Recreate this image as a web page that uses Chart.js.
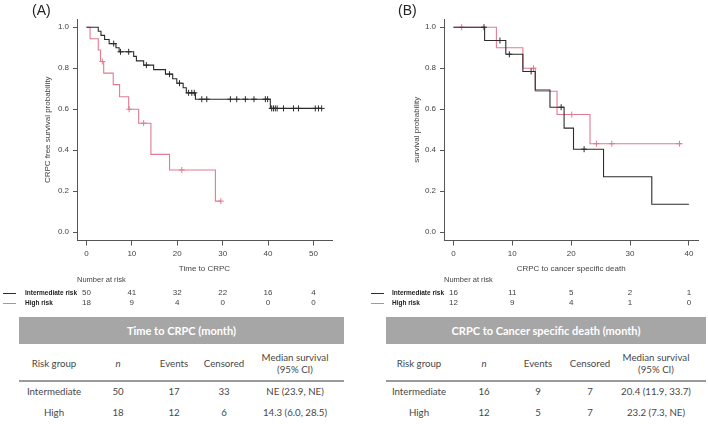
<!DOCTYPE html>
<html><head><meta charset="utf-8">
<script src="https://cdn.jsdelivr.net/npm/chart.js@4.4.1/dist/chart.umd.min.js"></script>
<style>
html,body{margin:0;padding:0;background:#fff;}
body{width:708px;height:424px;position:relative;overflow:hidden;font-family:"Liberation Sans",Arial,sans-serif;}
.abs{position:absolute;white-space:nowrap;line-height:1.2;}
.c{transform:translate(-50%,-50%);text-align:center;}
.l{transform:translateY(-50%);}
.rk{font-size:8px;color:#444;}
.lab{font-size:6.5px;font-weight:bold;color:#222;}
.tbl{font-family:Lato,"Open Sans",sans-serif;font-size:9.7px;color:#474747;}
.band{position:absolute;background:#a6a6a6;}
.bandt{font-family:Lato,"Open Sans",sans-serif;font-weight:bold;font-size:11px;color:#fff;}
.sep{position:absolute;height:1.5px;background:#9a9a9a;}
.panel{font-size:14px;color:#222;}
</style></head><body>
<canvas id="cA" width="354" height="276" style="position:absolute;left:0;top:0;width:354px;height:276px"></canvas>
<canvas id="cB" width="354" height="276" style="position:absolute;left:354px;top:0;width:354px;height:276px"></canvas>
<div id="ov"></div>
<script>
// ---------- Panel A: Time to CRPC ----------
const aTicks = [0, 10, 20, 30, 40, 50];
const survTicks = [0, 0.2, 0.4, 0.6, 0.8, 1.0];
const aInterTimes = [0, 2.6, 3.2, 4.0, 5.0, 6.5, 7.2, 10.4, 11.0, 12.6, 14.8, 17.4, 19.0, 19.9, 21.3, 22.0, 24.0, 40.5, 51.8];
const aInterSurv  = [1, 0.98, 0.96, 0.94, 0.92, 0.90, 0.88, 0.858, 0.836, 0.815, 0.793, 0.771, 0.749, 0.727, 0.705, 0.68, 0.649, 0.604, 0.604];
const aInterCensT = [6.0, 7.5, 9.3, 13.2, 18.3, 20.5, 22.5, 23.2, 23.75, 25.4, 26.5, 31.7, 33.1, 35.0, 36.9, 39.4, 39.9, 40.8, 41.2, 41.6, 42.0, 43.4, 45.6, 46.7, 50.4, 51.1, 51.8];
const aInterCensS = [0.92, 0.88, 0.88, 0.815, 0.771, 0.727, 0.68, 0.68, 0.68, 0.649, 0.649, 0.649, 0.649, 0.649, 0.649, 0.649, 0.649, 0.604, 0.604, 0.604, 0.604, 0.604, 0.604, 0.604, 0.604, 0.604, 0.604];
const aHighTimes = [0, 0.8, 2.6, 3.1, 3.8, 5.9, 7.3, 9.3, 11.5, 14.2, 18.3, 28.4, 29.7];
const aHighSurv  = [1, 0.944, 0.889, 0.833, 0.776, 0.72, 0.661, 0.60, 0.532, 0.38, 0.304, 0.152, 0.152];
const aHighCensT = [3.5, 9.4, 12.6, 21.0, 29.6];
const aHighCensS = [0.833, 0.60, 0.532, 0.304, 0.152];
const aRiskTimes = [0, 10, 20, 30, 40, 50];
const aRiskInter = [50, 41, 32, 22, 16, 4];
const aRiskHigh  = [18, 9, 4, 0, 0, 0];

// ---------- Panel B: CRPC to cancer specific death ----------
const bTicks = [0, 10, 20, 30, 40];
const bInterTimes = [0, 5.3, 8.9, 11.8, 13.9, 16.4, 18.8, 20.4, 25.5, 33.7, 40.0];
const bInterSurv  = [1, 0.935, 0.868, 0.784, 0.694, 0.61, 0.508, 0.405, 0.271, 0.137, 0.137];
const bInterCensT = [5.2, 7.9, 9.5, 13.2, 18.3, 22.2];
const bInterCensS = [1.0, 0.935, 0.868, 0.784, 0.61, 0.405];
const bHighTimes = [0, 7.3, 11.8, 13.9, 17.6, 23.2, 38.8];
const bHighSurv  = [1, 0.90, 0.80, 0.688, 0.574, 0.432, 0.432];
const bHighCensT = [1.4, 13.6, 20.1, 24.3, 26.9, 38.4];
const bHighCensS = [1.0, 0.80, 0.574, 0.432, 0.432, 0.432];
const bRiskTimes = [0, 10, 20, 30, 40];
const bRiskInter = [16, 11, 5, 2, 1];
const bRiskHigh  = [12, 9, 4, 1, 0];

// ---------- Tables ----------
const colHeaders = ['Risk group', 'n', 'Events', 'Censored', 'Median survival<br>(95% CI)'];
const groupNames = ['Intermediate', 'High'];
const tATitle = 'Time to CRPC (month)';
const tAN = [50, 18];
const tAEvents = [17, 12];
const tACens = [33, 6];
const tAMedian = ['NE (23.9, NE)', '14.3 (6.0, 28.5)'];
const tBTitle = 'CRPC to Cancer specific death (month)';
const tBN = [16, 12];
const tBEvents = [9, 5];
const tBCens = [7, 7];
const tBMedian = ['20.4 (11.9, 33.7)', '23.2 (7.3, NE)'];

const FAM = '"Liberation Sans", Arial, sans-serif';
const BLACK = '#2b2b2b';
const RED = '#e27a90';

function pts(ts, ss) { return ts.map((t, i) => ({x: t, y: ss[i]})); }

function km(id, o) {
  const ds = [];
  o.groups.forEach(g => {
    ds.push({type: 'line', data: pts(g.t, g.s), stepped: true, borderColor: g.col, borderWidth: 1.1, pointRadius: 0, fill: false, order: g.order});
    ds.push({type: 'line', data: pts(g.ct, g.cs), showLine: false, pointStyle: 'cross', pointRadius: 3, pointBorderColor: g.col, pointBorderWidth: 1, borderColor: g.col, order: g.order});
  });
  return new Chart(document.getElementById(id), {
    type: 'line',
    data: {datasets: ds},
    options: {
      responsive: false, animation: false, devicePixelRatio: 1,
      layout: {padding: {top: 19, right: o.padR, left: 0, bottom: 0}},
      plugins: {legend: {display: false}, tooltip: {enabled: false}},
      scales: {
        x: {
          type: 'linear', min: o.xmin, max: o.xmax,
          afterBuildTicks: s => { s.ticks = o.xTicks.map(v => ({value: v})); },
          afterFit: s => { s.height = 35.5; },
          ticks: {font: {family: FAM, size: 8}, color: '#444', padding: 3, maxRotation: 0, autoSkip: false, callback: v => String(v)},
          grid: {drawOnChartArea: false, drawTicks: true, tickLength: 5, color: '#555', lineWidth: 1},
          border: {display: true, color: '#555', width: 1},
          title: {display: true, text: o.xTitle, font: {family: FAM, size: 8}, color: '#444', padding: {top: 0, bottom: 2}}
        },
        y: {
          type: 'linear', min: -0.04, max: 1.04,
          afterBuildTicks: s => { s.ticks = survTicks.map(v => ({value: v})); },
          afterFit: s => { s.width = o.yW; },
          ticks: {font: {family: FAM, size: 8}, color: '#444', padding: 4, autoSkip: false, callback: v => Number(v).toFixed(1)},
          grid: {drawOnChartArea: false, drawTicks: true, tickLength: 4, color: '#555', lineWidth: 1},
          border: {display: true, color: '#555', width: 1},
          title: {display: true, text: o.yTitle, font: {family: FAM, size: 8}, color: '#444', padding: {top: o.yTitlePad, bottom: 0}}
        }
      }
    }
  });
}

const chA = km('cA', {
  xmin: -2.08, xmax: 54.08, xTicks: aTicks, padR: 22, yW: 77, yTitlePad: 43,
  xTitle: 'Time to CRPC', yTitle: 'CRPC free survival probability',
  groups: [
    {t: aHighTimes, s: aHighSurv, ct: aHighCensT, cs: aHighCensS, col: RED, order: 2},
    {t: aInterTimes, s: aInterSurv, ct: aInterCensT, cs: aInterCensS, col: BLACK, order: 1}
  ]
});
const chB = km('cB', {
  xmin: -1.6, xmax: 41.6, xTicks: bTicks, padR: 9.7, yW: 90, yTitlePad: 58,
  xTitle: 'CRPC to cancer specific death', yTitle: 'survival probability',
  groups: [
    {t: bHighTimes, s: bHighSurv, ct: bHighCensT, cs: bHighCensS, col: RED, order: 2},
    {t: bInterTimes, s: bInterSurv, ct: bInterCensT, cs: bInterCensS, col: BLACK, order: 1}
  ]
});

const ov = document.getElementById('ov');
function add(html, cls, x, y, extra) {
  const d = document.createElement('div');
  d.className = 'abs ' + cls;
  d.style.left = x + 'px'; d.style.top = y + 'px';
  if (extra) d.style.cssText += extra;
  d.innerHTML = html;
  ov.appendChild(d);
  return d;
}

function riskTable(chart, offX, times, inter, high, labelX, lineX, nrX) {
  const sx = chart.scales.x;
  add('Number at risk', 'l rk', nrX, 279, 'font-size:7.5px;');
  add('', '', lineX, 292.5, 'width:13px;height:1.2px;background:' + BLACK + ';');
  add('', '', lineX, 302.5, 'width:13px;height:1.2px;background:' + RED + ';');
  add('Intermediate risk', 'l lab', labelX, 292.7);
  add('High risk', 'l lab', labelX, 303);
  times.forEach((t, i) => {
    const px = offX + sx.getPixelForValue(t);
    add(String(inter[i]), 'c rk', px, 293);
    add(String(high[i]), 'c rk', px, 303.3);
  });
}
riskTable(chA, 0, aRiskTimes, aRiskInter, aRiskHigh, 25, 3, 77);
riskTable(chB, 354, bRiskTimes, bRiskInter, bRiskHigh, 392, 371, 444);

add('(A)', 'l panel', 32, 10);
add('(B)', 'l panel', 398, 10);

function summary(left, width, cols, title, n, ev, ce, med) {
  const b = document.createElement('div');
  b.className = 'band';
  b.style.cssText = 'left:' + left + 'px;top:317px;width:' + width + 'px;height:27px;';
  ov.appendChild(b);
  add(title, 'c bandt', left + width / 2, 330.5);
  colHeaders.forEach((h, j) => {
    const d = add(h, 'c tbl', cols[j], 364);
    if (j === 1) d.style.fontStyle = 'italic';
  });
  const s = document.createElement('div');
  s.className = 'sep';
  s.style.cssText = 'left:' + left + 'px;top:380px;width:' + width + 'px;';
  ov.appendChild(s);
  const rowsY = [392, 413];
  groupNames.forEach((g, i) => {
    add(g, 'c tbl', cols[0], rowsY[i]);
    add(String(n[i]), 'c tbl', cols[1], rowsY[i]);
    add(String(ev[i]), 'c tbl', cols[2], rowsY[i]);
    add(String(ce[i]), 'c tbl', cols[3], rowsY[i]);
    add(med[i], 'c tbl', cols[4], rowsY[i]);
  });
}
summary(19, 325, [54, 118, 174, 224, 295], tATitle, tAN, tAEvents, tACens, tAMedian);
summary(386, 320, [419, 484, 538, 590, 656], tBTitle, tBN, tBEvents, tBCens, tBMedian);
</script>
</body></html>
